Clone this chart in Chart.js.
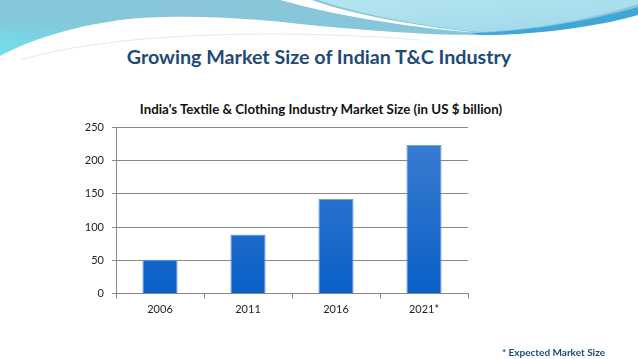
<!DOCTYPE html>
<html lang="en">
<head>
  <meta charset="UTF-8" />
  <title>Growing Market Size of Indian T&amp;C Industry</title>
  <script src="https://cdn.jsdelivr.net/npm/chart.js"></script>
  <style>
    html, body { margin: 0; padding: 0; background: #fff; }
    body { width: 638px; height: 359px; position: relative; overflow: hidden; font-family: Lato, "Noto Sans", sans-serif; }
    #waves { position: absolute; left: 0; top: 0; }
    #heading { position: absolute; left: 0; width: 638px; top: 45px; text-align: center; font-weight: bold; font-size: 19.7px; color: #1f4a78; }
    #chartTitle { position: absolute; left: 0; width: 642px; top: 101px; text-align: center; font-weight: bold; font-size: 13.3px; color: #111; }
    #chartBox { position: absolute; left: 0; top: 0; width: 638px; height: 359px; }
    #note { position: absolute; right: 33px; top: 346px; font-weight: bold; font-size: 10px; color: #1f4a78; }
  </style>
</head>
<body>
  <svg id="waves" width="638" height="70" viewBox="0 0 638 70">
    <defs>
      <linearGradient id="gMain" x1="0" y1="1" x2="0.6" y2="0">
        <stop offset="0" stop-color="#6fe2f0" />
        <stop offset="0.5" stop-color="#84c8dc" />
        <stop offset="1" stop-color="#8cc4d8" />
      </linearGradient>
      <linearGradient id="gRight" x1="0" y1="0" x2="1" y2="1">
        <stop offset="0" stop-color="#b6e6ee" />
        <stop offset="1" stop-color="#9ed8ec" />
      </linearGradient>
    </defs>
    <path d="M0,0 H638 V14 C600,24 540,35 480,35 C420,35 360,30 300,24 C240,17 170,14 120,20 C70,27 30,40 0,56 Z" fill="url(#gMain)" />
    <path d="M300,0 H638 V4 C590,20 530,30 480,32 C420,26 360,14 318,0 Z" fill="url(#gRight)" />
    <path d="M280,0 C330,14 400,27 480,33 C400,24 345,12 312,0 Z" fill="#ffffff" />
    <path d="M470,33 C540,31 600,18 638,7 V15 C600,26 540,35 480,35 Z" fill="#3fa6d8" />
    <path d="M20,60 C120,30 300,30 420,40" fill="none" stroke="#d9eef4" stroke-width="1" />
  </svg>
  <div id="heading">Growing Market Size of Indian T&amp;C Industry</div>
  <div id="chartTitle">India's Textile &amp; Clothing Industry Market Size (in US $ billion)</div>
  <div id="chartBox"><canvas id="chart" width="638" height="359"></canvas></div>
  <div id="note">* Expected Market Size</div>

  <script>
    const years = ['2006', '2011', '2016', '2021*'];
    const marketSize = [51, 89, 142, 223];
    const yTicks = [0, 50, 100, 150, 200, 250];

    const ctx = document.getElementById('chart').getContext('2d');

    function barFill(context) {
      const area = context.chart.chartArea;
      if (!area) return '#2a70cc';
      const g = context.chart.ctx.createLinearGradient(0, area.top, 0, area.bottom);
      g.addColorStop(0, '#3e7fd2');
      g.addColorStop(1, '#0a5fc7');
      return g;
    }

    new Chart(ctx, {
      type: 'bar',
      data: {
        labels: years,
        datasets: [{
          label: 'Market Size (US $ billion)',
          data: marketSize,
          backgroundColor: barFill,
          borderColor: '#6fa4e4',
          borderWidth: 1,
          barPercentage: 0.4,
          categoryPercentage: 1
        }]
      },
      options: {
        responsive: false,
        animation: false,
        layout: { padding: { left: 0, right: 170, top: 127, bottom: 39 } },
        plugins: {
          legend: { display: false },
          tooltip: { enabled: false },
          title: { display: false }
        },
        scales: {
          x: {
            grid: { offset: true, drawOnChartArea: false, drawTicks: true, tickLength: 5, color: '#888' },
            border: { display: true, color: '#888' },
            ticks: { color: '#222', font: { family: 'Lato', size: 11 }, padding: 4 }
          },
          y: {
            min: 0,
            max: 250,
            afterBuildTicks: (scale) => { scale.ticks = yTicks.map(v => ({ value: v })); },
            afterFit: (scale) => { scale.width = 116; },
            grid: { color: '#888', tickLength: 4 },
            border: { display: true, color: '#888' },
            ticks: { color: '#222', font: { family: 'Lato', size: 11 }, padding: 8 }
          }
        }
      }
    });
  </script>
</body>
</html>
